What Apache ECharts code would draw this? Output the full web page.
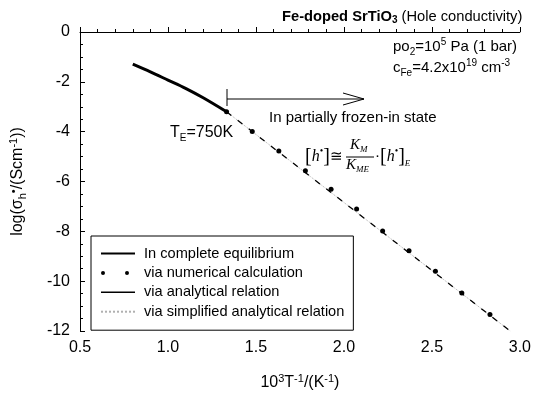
<!DOCTYPE html>
<html>
<head>
<meta charset="utf-8">
<script src="https://cdn.jsdelivr.net/npm/echarts@6/dist/echarts.min.js"></script>
<style>
  html, body { margin: 0; padding: 0; background: #fff; }
  #chart { width: 534px; height: 396px; }
</style>
</head>
<body>
<div id="chart"></div>
<script>
  // complete equilibrium (T above 750 K)
  const eqX = [0.8, 0.9, 1.0, 1.1, 1.2, 1.333];
  const eqY = [-1.29, -1.60, -1.93, -2.26, -2.64, -3.20];

  // numerical calculation points
  const numX = [1.333, 1.479, 1.630, 1.781, 1.927, 2.072, 2.22, 2.37, 2.52, 2.67, 2.83];
  const numY = [-3.20, -3.99, -4.78, -5.57, -6.31, -7.10, -7.99, -8.78, -9.60, -10.47, -11.34];

  // analytical / simplified analytical relation (straight lines)
  const anaX = [1.333, 2.945];
  const anaY = [-3.20, -12.0];
  const simX = [1.333, 2.945];
  const simY = [-3.20, -12.0];

  const xTicks = [0.5, 3.0, 0.5];   // min, max, interval
  const yTicks = [-12, 0, 2];

  const seriesNames = [
    'In complete equilibrium',
    'via numerical calculation',
    'via analytical relation',
    'via simplified analytical relation'
  ];

  const FONT = '"Liberation Sans", Arial, sans-serif';
  const SERIF = '"Liberation Serif", "Times New Roman", serif';

  function pairs(xs, ys) {
    return xs.map((x, i) => [x, ys[i]]);
  }

  const chart = echarts.init(document.getElementById('chart'));

  const noSymbol = { opacity: 0 };

  const option = {
    animation: false,
    backgroundColor: '#fff',
    textStyle: { fontFamily: FONT },
    grid: { left: 80, top: 32, width: 441, height: 304 },
    legend: {
      orient: 'vertical',
      left: 91,
      top: 236,
      padding: [10, 9, 11, 9],
      itemWidth: 34,
      itemHeight: 14,
      itemGap: 4.4,
      backgroundColor: '#fff',
      borderColor: '#000',
      borderWidth: 1,
      borderRadius: 0,
      selectedMode: false,
      textStyle: { fontFamily: FONT, fontSize: 14.6, color: '#000', padding: [0, 0, 0, 4] },
      data: [
        { name: seriesNames[0], itemStyle: noSymbol },
        { name: seriesNames[1],
          icon: 'path://M0,0L0,0M0,7a2,2 0 1,0 4,0a2,2 0 1,0 -4,0M24,7a2,2 0 1,0 4,0a2,2 0 1,0 -4,0M34,14L34,14',
          itemStyle: { color: '#000', opacity: 1 } },
        { name: seriesNames[2], itemStyle: noSymbol, lineStyle: { type: 'solid', width: 1.5 } },
        { name: seriesNames[3], itemStyle: noSymbol }
      ]
    },
    xAxis: {
      type: 'value',
      min: xTicks[0],
      max: xTicks[1],
      interval: xTicks[2],
      name: '{n|10}{p|3}{n|T}{p|-1}{n|/(K}{p|-1}{n|)}',
      nameLocation: 'middle',
      nameGap: 42,
      nameTextStyle: {
        rich: {
          n: { fontFamily: FONT, fontSize: 16, color: '#000', lineHeight: 20, verticalAlign: 'middle' },
          p: { fontFamily: FONT, fontSize: 11, color: '#000', lineHeight: 11, verticalAlign: 'top' }
        }
      },
      axisLine: { lineStyle: { color: '#000', width: 1 } },
      axisTick: { inside: true, length: 5, lineStyle: { color: '#000' } },
      minorTick: { show: true, splitNumber: 5, length: 3, lineStyle: { color: '#000' } },
      splitLine: { show: false },
      axisLabel: {
        fontFamily: FONT, fontSize: 16, color: '#000', margin: 9,
        formatter: v => v.toFixed(1)
      }
    },
    yAxis: {
      type: 'value',
      min: yTicks[0],
      max: yTicks[1],
      interval: yTicks[2],
      name: '{n|log(σ}{s|h}{p|•}{n|/(Scm}{p|-1}{n|))}',
      nameLocation: 'middle',
      nameRotate: 90,
      nameGap: 52,
      nameTextStyle: {
        rich: {
          n: { fontFamily: FONT, fontSize: 16, color: '#000', lineHeight: 20, verticalAlign: 'middle' },
          s: { fontFamily: FONT, fontSize: 11, color: '#000', lineHeight: 11, verticalAlign: 'bottom' },
          p: { fontFamily: FONT, fontSize: 11, color: '#000', lineHeight: 11, verticalAlign: 'top' }
        }
      },
      axisLine: { show: true, lineStyle: { color: '#000', width: 1 } },
      axisTick: { show: true, inside: true, length: 5, lineStyle: { color: '#000' } },
      minorTick: { show: true, splitNumber: 4, length: 3, lineStyle: { color: '#000' } },
      splitLine: { show: false },
      axisLabel: { fontFamily: FONT, fontSize: 16, color: '#000', margin: 10 }
    },
    series: [
      {
        name: seriesNames[3],
        type: 'line',
        data: pairs(simX, simY),
        symbol: 'none',
        lineStyle: { color: '#b0b0b0', width: 1, type: 'dotted' },
        z: 1
      },
      {
        name: seriesNames[2],
        type: 'line',
        data: pairs(anaX, anaY),
        symbol: 'none',
        lineStyle: { color: '#000', width: 1.3, type: [6, 8] },
        z: 2
      },
      {
        name: seriesNames[0],
        type: 'line',
        data: pairs(eqX, eqY),
        symbol: 'none',
        smooth: 0.3,
        lineStyle: { color: '#000', width: 3 },
        z: 3
      },
      {
        name: seriesNames[1],
        type: 'scatter',
        data: pairs(numX, numY),
        symbol: 'circle',
        symbolSize: 5,
        itemStyle: { color: '#000', opacity: 1 },
        z: 4
      }
    ],
    graphic: [
      // title
      {
        type: 'text', left: 282, top: 9,
        style: {
          text: '{b|Fe-doped SrTiO}{bs|3}{n| (Hole conductivity)}',
          rich: {
            b: { fontFamily: FONT, fontSize: 14.7, fontWeight: 'bold', fill: '#000', lineHeight: 18, verticalAlign: 'middle' },
            bs: { fontFamily: FONT, fontSize: 10, fontWeight: 'bold', fill: '#000', lineHeight: 10, verticalAlign: 'bottom' },
            n: { fontFamily: FONT, fontSize: 14.7, fill: '#000', lineHeight: 18, verticalAlign: 'middle' }
          }
        }
      },
      {
        type: 'text', left: 393, top: 37,
        style: {
          text: '{n|po}{s|2}{n|=10}{p|5}{n| Pa (1 bar)}',
          rich: {
            n: { fontFamily: FONT, fontSize: 15, fill: '#000', lineHeight: 20, verticalAlign: 'middle' },
            s: { fontFamily: FONT, fontSize: 10, fill: '#000', lineHeight: 10, verticalAlign: 'bottom' },
            p: { fontFamily: FONT, fontSize: 10, fill: '#000', lineHeight: 10, verticalAlign: 'top' }
          }
        }
      },
      {
        type: 'text', left: 393, top: 58,
        style: {
          text: '{n|c}{s|Fe}{n|=4.2x10}{p|19}{n| cm}{p|-3}',
          rich: {
            n: { fontFamily: FONT, fontSize: 15, fill: '#000', lineHeight: 20, verticalAlign: 'middle' },
            s: { fontFamily: FONT, fontSize: 10, fill: '#000', lineHeight: 10, verticalAlign: 'bottom' },
            p: { fontFamily: FONT, fontSize: 10, fill: '#000', lineHeight: 10, verticalAlign: 'top' }
          }
        }
      },
      // arrow for partially frozen-in state
      { type: 'line', shape: { x1: 227, y1: 89, x2: 227, y2: 106 }, style: { stroke: '#000', lineWidth: 1 } },
      { type: 'line', shape: { x1: 227, y1: 99, x2: 364, y2: 99 }, style: { stroke: '#000', lineWidth: 1 } },
      { type: 'polyline', shape: { points: [[343, 93], [364, 99], [343, 105]] }, style: { stroke: '#000', lineWidth: 1, fill: null } },
      {
        type: 'text', left: 269, top: 110,
        style: { text: 'In partially frozen-in state', fontFamily: FONT, fontSize: 15, fill: '#000' }
      },
      // T_E label
      {
        type: 'text', left: 170, top: 125,
        style: {
          text: '{n|T}{s|E}{n|=750K}',
          rich: {
            n: { fontFamily: FONT, fontSize: 16, fill: '#000', lineHeight: 20, verticalAlign: 'middle' },
            s: { fontFamily: FONT, fontSize: 10, fill: '#000', lineHeight: 10, verticalAlign: 'bottom' }
          }
        }
      },
      // formula
      {
        type: 'text', left: 305, top: 146,
        style: {
          text: '{b|[}{i|h}{p|•}{b|]}{n|≅}',
          rich: {
            b: { fontFamily: SERIF, fontSize: 20, fill: '#000', lineHeight: 22, verticalAlign: 'middle' },
            i: { fontFamily: SERIF, fontSize: 16, fontStyle: 'italic', fill: '#000', lineHeight: 22, verticalAlign: 'middle' },
            p: { fontFamily: SERIF, fontSize: 10, fill: '#000', lineHeight: 10, verticalAlign: 'top' },
            n: { fontFamily: SERIF, fontSize: 15, fill: '#000', lineHeight: 22, verticalAlign: 'middle' }
          }
        }
      },
      {
        type: 'text', left: 350, top: 138,
        style: {
          text: '{i|K}{s|M}',
          rich: {
            i: { fontFamily: SERIF, fontSize: 15, fontStyle: 'italic', fill: '#000', lineHeight: 17, verticalAlign: 'middle' },
            s: { fontFamily: SERIF, fontSize: 9, fontStyle: 'italic', fill: '#000', lineHeight: 9, verticalAlign: 'bottom' }
          }
        }
      },
      { type: 'line', shape: { x1: 346, y1: 157, x2: 374, y2: 157 }, style: { stroke: '#000', lineWidth: 1 } },
      {
        type: 'text', left: 346, top: 158,
        style: {
          text: '{i|K}{s|ME}',
          rich: {
            i: { fontFamily: SERIF, fontSize: 15, fontStyle: 'italic', fill: '#000', lineHeight: 17, verticalAlign: 'middle' },
            s: { fontFamily: SERIF, fontSize: 9, fontStyle: 'italic', fill: '#000', lineHeight: 9, verticalAlign: 'bottom' }
          }
        }
      },
      {
        type: 'text', left: 375, top: 146,
        style: {
          text: '{n|·}{b|[}{i|h}{p|•}{b|]}{s|E}',
          rich: {
            b: { fontFamily: SERIF, fontSize: 20, fill: '#000', lineHeight: 22, verticalAlign: 'middle' },
            i: { fontFamily: SERIF, fontSize: 16, fontStyle: 'italic', fill: '#000', lineHeight: 22, verticalAlign: 'middle' },
            p: { fontFamily: SERIF, fontSize: 10, fill: '#000', lineHeight: 10, verticalAlign: 'top' },
            s: { fontFamily: SERIF, fontSize: 9, fontStyle: 'italic', fill: '#000', lineHeight: 9, verticalAlign: 'bottom' },
            n: { fontFamily: SERIF, fontSize: 15, fill: '#000', lineHeight: 22, verticalAlign: 'middle' }
          }
        }
      }
    ]
  };

  chart.setOption(option);
  window.addEventListener('resize', function () {
    chart.resize();
  });
</script>
</body>
</html>
